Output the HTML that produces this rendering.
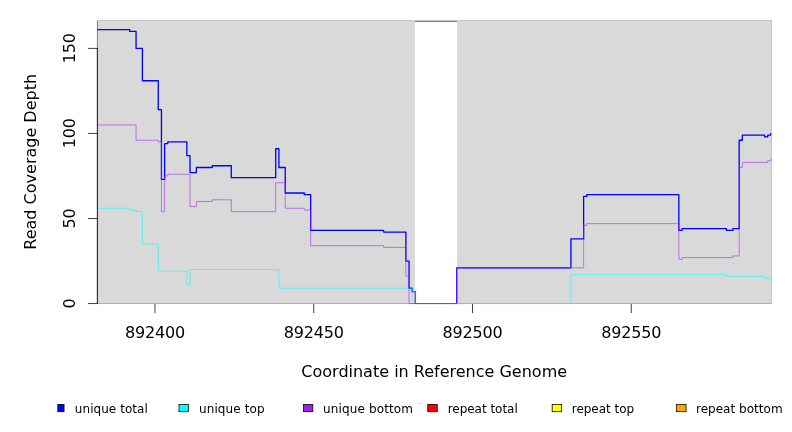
<!DOCTYPE html>
<html><head><meta charset="utf-8"><title>Read Coverage Depth</title>
<style>html,body{margin:0;padding:0;background:#fff}svg{display:block;will-change:transform}</style></head>
<body>
<svg width="792" height="432" viewBox="0 0 792 432" font-family="'DejaVu Sans', 'Liberation Sans', sans-serif" fill="#000">
<defs><clipPath id="pc"><rect x="97.40" y="20.45" width="674.00" height="283.70"/></clipPath><clipPath id="lc"><rect x="57.3" y="395" width="735" height="37"/></clipPath></defs>
<rect x="0" y="0" width="792" height="432" fill="#fff"/>
<rect x="97.40" y="20.45" width="674.00" height="283.10" fill="#D9D9D9" stroke="#B4B4B4" stroke-width="0.75" stroke-linejoin="round"/>
<rect x="414.90" y="21" width="42.15" height="283.55" fill="#fff"/>
<rect x="414.90" y="21" width="42.15" height="1" fill="#808080"/>
<path d="M97.40 21 V303.55" stroke="#000" stroke-opacity="0.45" stroke-width="0.75" fill="none"/>
<g stroke="#000" stroke-width="0.75" fill="none" stroke-linecap="round">
<path d="M154.96 303.55 V312.65"/>
<path d="M313.73 303.55 V312.65"/>
<path d="M472.50 303.55 V312.65"/>
<path d="M631.27 303.55 V312.65"/>
</g>
<g clip-path="url(#pc)" fill="none" stroke-linejoin="round" stroke-linecap="round">
<path d="M95.40 303.55 H773.40" stroke="#FF0000" stroke-width="0.5625"/>
<path d="M95.40 303.55 H773.40" stroke="#FFFF00" stroke-width="0.5625"/>
<path d="M95.40 303.55 H773.40" stroke="#FFA500" stroke-width="0.5625"/>
<path d="M96.96 29.69 H129.70 V31.39 H136.05 V48.40 H142.40 V80.72 H158.27 V109.64 H161.45 V179.38 H164.62 V143.66 H167.79 V141.96 H186.84 V155.56 H190.01 V172.57 H196.36 V167.47 H212.23 V165.77 H231.28 V177.68 H275.72 V148.76 H278.90 V167.47 H285.24 V192.99 H304.29 V194.69 H310.64 V230.41 H383.65 V232.11 H405.87 V261.03 H409.04 V288.24 H412.22 V291.64 H415.39 V303.55 H456.66 V267.83 H570.93 V238.91 H583.63 V196.39 H586.80 V194.69 H678.86 V230.41 H682.03 V228.71 H726.47 V230.41 H732.82 V228.71 H739.17 V140.25 H742.34 V135.15 H764.56 V136.85 H767.74 V135.15 H770.91 V133.45 H777.26" stroke="#0000FF" stroke-width="1.31"/>
<path d="M96.96 208.29 H129.70 V210.00 H136.05 V211.70 H142.40 V244.02 H158.27 V271.23 H186.84 V284.84 H190.01 V269.53 H278.90 V288.24 H412.22 V291.64 H415.39 V303.55 H570.93 V274.63 H726.47 V276.33 H764.56 V278.04 H777.26" stroke="#00FFFF" stroke-width="0.5625"/>
<path d="M96.96 124.94 H136.05 V140.25 H158.27 V141.96 H161.45 V211.70 H164.62 V175.98 H167.79 V174.27 H190.01 V206.59 H196.36 V201.49 H212.23 V199.79 H231.28 V211.70 H275.72 V182.78 H285.24 V208.29 H304.29 V210.00 H310.64 V245.72 H383.65 V247.42 H405.87 V276.33 H409.04 V303.55 H456.66 V267.83 H583.63 V225.30 H586.80 V223.60 H678.86 V259.32 H682.03 V257.62 H732.82 V255.92 H739.17 V167.47 H742.34 V162.37 H767.74 V160.67 H770.91 V158.97 H777.26" stroke="#A020F0" stroke-width="0.5625"/>
</g>
<g stroke="#000" stroke-width="0.75" fill="none" stroke-linecap="round">
<path d="M97.40 48.40 V303.55"/>
<path d="M97.40 303.55 H88.30"/>
<path d="M97.40 218.50 H88.30"/>
<path d="M97.40 133.45 H88.30"/>
<path d="M97.40 48.40 H88.30"/>
</g>
<g font-size="16" text-anchor="middle">
<text x="155.06" y="338.2" letter-spacing="-0.18">892400</text>
<text x="313.83" y="338.2" letter-spacing="-0.18">892450</text>
<text x="472.60" y="338.2" letter-spacing="-0.18">892500</text>
<text x="631.37" y="338.2" letter-spacing="-0.18">892550</text>
<text transform="translate(74.9 303.45) rotate(-90)" letter-spacing="-0.18">0</text>
<text transform="translate(74.9 218.40) rotate(-90)" letter-spacing="-0.18">50</text>
<text transform="translate(74.9 133.35) rotate(-90)" letter-spacing="-0.18">100</text>
<text transform="translate(74.9 48.30) rotate(-90)" letter-spacing="-0.18">150</text>
<text x="434.2" y="376.6">Coordinate in Reference Genome</text>
<text transform="translate(35.9 161.8) rotate(-90)">Read Coverage Depth</text>
</g>
<g font-size="12" clip-path="url(#lc)">
<rect x="54.55" y="404.4" width="9.5" height="7.3" fill="#0000FF" stroke="#000" stroke-width="0.75"/>
<text x="74.85" y="412.6" letter-spacing="0.05">unique total</text>
<rect x="178.95" y="404.4" width="9.5" height="7.3" fill="#00FFFF" stroke="#000" stroke-width="0.75"/>
<text x="198.95" y="412.6" letter-spacing="0.12">unique top</text>
<rect x="303.35" y="404.4" width="9.5" height="7.3" fill="#A020F0" stroke="#000" stroke-width="0.75"/>
<text x="323.05" y="412.6" letter-spacing="0.13">unique bottom</text>
<rect x="427.75" y="404.4" width="9.5" height="7.3" fill="#FF0000" stroke="#000" stroke-width="0.75"/>
<text x="447.65" y="412.6" letter-spacing="-0.02">repeat total</text>
<rect x="552.15" y="404.4" width="9.5" height="7.3" fill="#FFFF00" stroke="#000" stroke-width="0.75"/>
<text x="571.75" y="412.6" letter-spacing="-0.03">repeat top</text>
<rect x="676.55" y="404.4" width="9.5" height="7.3" fill="#FFA500" stroke="#000" stroke-width="0.75"/>
<text x="695.95" y="412.6" letter-spacing="0.03">repeat bottom</text>
</g>
<rect x="419" y="403" width="2" height="1" fill="#D2D2D2"/>
</svg>
</body></html>
